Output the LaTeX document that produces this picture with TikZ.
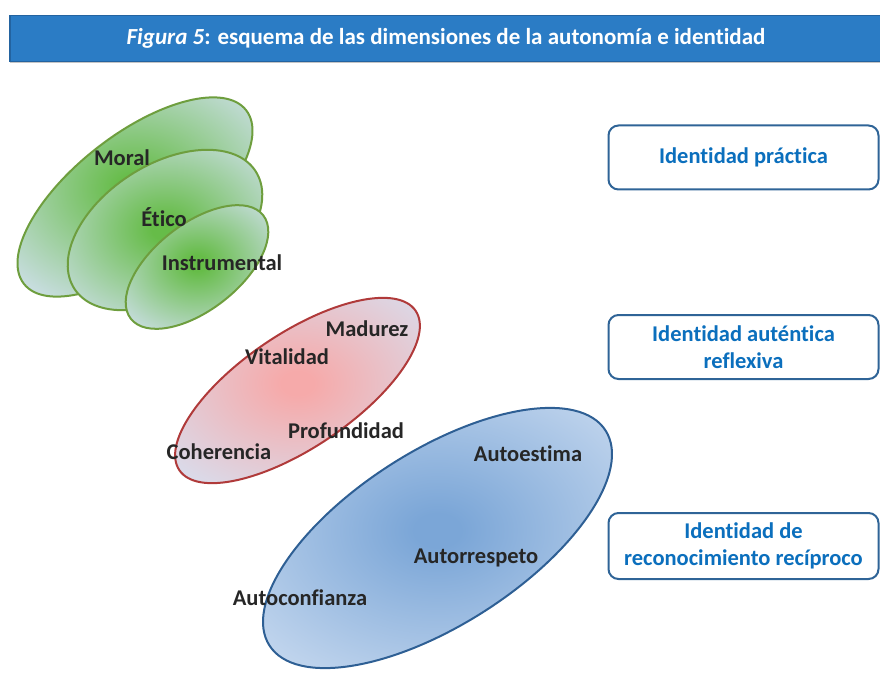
\documentclass[tikz,border=0pt]{standalone}
\usepackage{fontspec}
\setmainfont{Carlito}[Ligatures=NoCommon]
\usetikzlibrary{shapes.geometric,shadows}

\definecolor{barblue}{HTML}{2B7CC5}
\definecolor{bardark}{HTML}{2363A0}
\definecolor{boxline}{HTML}{2F6497}
\definecolor{boxtext}{HTML}{0B6FBD}
\definecolor{labeltext}{HTML}{262626}
\definecolor{greenline}{HTML}{6E9E3E}
\definecolor{redline}{HTML}{B03A3A}
\definecolor{blueline}{HTML}{2E5F94}
\definecolor{greenmid}{HTML}{66BC48}
\definecolor{greenrim}{HTML}{D0E0EC}
\definecolor{redmid}{HTML}{F6AAAA}
\definecolor{redrim}{HTML}{D8DEEE}
\definecolor{bluemid}{HTML}{7BA6D7}
\definecolor{bluerim}{HTML}{CADBF0}

\pgfdeclareradialshading{greenblob}{\pgfpoint{0bp}{0bp}}{color(0bp)=(greenmid); color(3bp)=(greenmid); color(33bp)=(greenrim); color(50bp)=(greenrim)}
\pgfdeclareradialshading{redblob}{\pgfpoint{0bp}{0bp}}{color(0bp)=(redmid); color(3bp)=(redmid); color(33bp)=(redrim); color(50bp)=(redrim)}
\pgfdeclareradialshading{blueblob}{\pgfpoint{0bp}{0bp}}{color(0bp)=(bluemid); color(3bp)=(bluemid); color(34bp)=(bluerim); color(50bp)=(bluerim)}

\tikzset{
  blob/.style={ellipse, inner sep=0pt, outer sep=0pt, line width=2pt},
  greenset/.style={blob, draw=greenline, shading=greenblob},
  redset/.style={blob, draw=redline, shading=redblob},
  blueset/.style={blob, draw=blueline, shading=blueblob},
  dimlabel/.style={font=\fontsize{22.5}{27}\selectfont\bfseries, text=labeltext, inner sep=0pt},
  idbox/.style={draw=boxline, line width=2pt, fill=white, rounded corners=10pt,
    minimum width=270pt, minimum height=64pt, align=center, text=boxtext,
    font=\fontsize{22.5}{27}\selectfont\bfseries},
  titlebar/.style={draw=bardark, line width=1.5pt, fill=barblue, text=white,
    minimum width=872pt, minimum height=46pt,
    font=\fontsize{23}{27}\selectfont\bfseries,
    drop shadow={shadow xshift=0pt, shadow yshift=-2pt, fill=black!45}}
}

\begin{document}
\begin{tikzpicture}[x=1pt,y=-1pt]
    \useasboundingbox (0,0) rectangle (880,679);

    % title
    \node[titlebar] (title) at (446,38.5) {\textit{Figura 5}: esquema de las dimensiones de la autonomía e identidad};

    % green group
    \node[greenset, rotate=38, minimum width=282pt, minimum height=124pt] (moral) at (135,197) {};
    \node[greenset, rotate=33, minimum width=216pt, minimum height=130pt] (etico) at (165,230) {};
    \node[greenset, rotate=38, minimum width=168pt, minimum height=86pt] (instr) at (197,267) {};

    % red group
    \node[redset, rotate=34, minimum width=285pt, minimum height=114pt] (reflex) at (297.5,390.5) {};

    % blue group
    \node[blueset, rotate=32.6, minimum width=399pt, minimum height=174pt] (recip) at (437.5,538) {};

    % labels
    \node[dimlabel] (lmoral) at (122,158) {Moral};
    \node[dimlabel] (letico) at (164,217) {Ético};
    \node[dimlabel] (linstr) at (222,263) {Instrumental};
    \node[dimlabel] (lmadurez) at (367,329) {Madurez};
    \node[dimlabel] (lvital) at (287,357) {Vitalidad};
    \node[dimlabel] (lprof) at (346,431) {Profundidad};
    \node[dimlabel] (lcoher) at (219,452) {Coherencia};
    \node[dimlabel] (lestima) at (528,454) {Autoestima};
    \node[dimlabel] (lrespeto) at (476,558) {Autorrespeto};
    \node[dimlabel] (lconfia) at (300,598) {Autoconfianza};

    % identity boxes
    \node[idbox] (practica) at (743.5,157.5) {Identidad práctica};
    \node[idbox] (autentica) at (743.5,347) {Identidad auténtica\\reflexiva};
    \node[idbox, minimum height=66pt] (reconoc) at (743.5,546) {Identidad de\\reconocimiento recíproco};
\end{tikzpicture}
\end{document}
